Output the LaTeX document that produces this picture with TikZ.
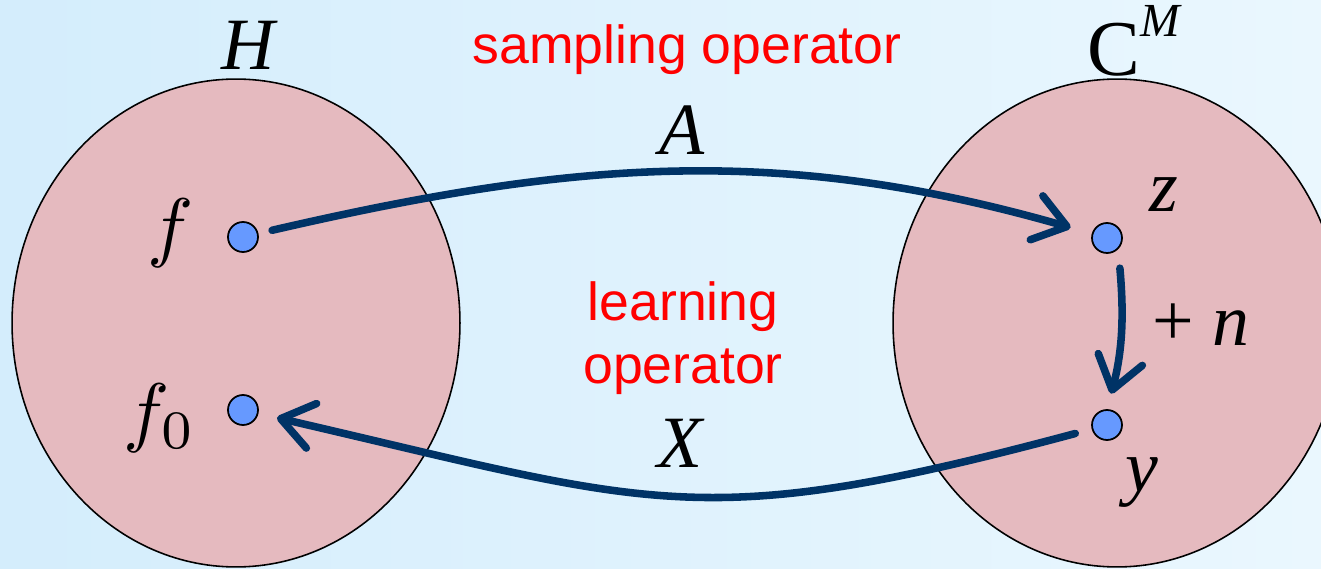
\documentclass[tikz,border=0pt]{standalone}
\usepackage{fontspec}
\newfontfamily\labelfont{Liberation Sans}
\newfontfamily\timesfont{Liberation Serif}
\usepackage{xcolor}
\definecolor{bgleft}{RGB}{212,237,252}
\definecolor{bgright}{RGB}{234,247,254}
\definecolor{spacepink}{RGB}{229,186,191}
\definecolor{pointblue}{RGB}{102,153,255}
\definecolor{flownavy}{RGB}{0,51,102}
\definecolor{opred}{RGB}{255,0,0}
\usetikzlibrary{arrows.meta, positioning, shapes.geometric}

\begin{document}
\begin{tikzpicture}[x=0.02cm, y=0.02cm,
    space/.style={ellipse, draw=black, line width=0.9pt, fill=spacepink,
                  minimum width=8.96cm, minimum height=9.76cm, inner sep=0pt},
    point/.style={circle, draw=black, line width=1pt, fill=pointblue,
                  minimum size=0.6cm, inner sep=0pt},
    sym/.style={font=\fontsize{42}{46}\selectfont\timesfont\itshape, inner sep=0pt},
    mathsym/.style={scale=4.4, inner sep=0pt},
    optext/.style={font=\fontsize{30.5}{36}\selectfont\labelfont, text=opred,
                   align=center, inner sep=0pt},
    flow/.style={line width=4.3pt, draw=flownavy, line cap=round,
                 -{Straight Barb[length=18pt, width=26pt, round]}}]
      % Background
      \fill[left color=bgleft, right color=bgright] (0,0) rectangle (1321,568);
      \useasboundingbox (0,0) rectangle (1321,568);
      % The two spaces
      \node[space] (hspace) at (236,245) {};
      \node[space] (cspace) at (1117,245) {};
      \node[sym] (hlabel) at (248,523) {H};
      \node[inner sep=0pt] (clabel) at (1134,527)
            {\fontsize{45}{48}\selectfont\timesfont C\raisebox{0.5em}{\fontsize{27}{30}\selectfont\itshape M}};
      % Points
      \node[point] (fdot)  at (243,331) {};
      \node[point] (f0dot) at (243,158) {};
      \node[point] (zdot)  at (1107,330) {};
      \node[point] (ydot)  at (1107,143) {};
      \node[mathsym] (flabel)  at (171,335) {$f$};
      \node[mathsym] (f0label) at (160,150) {$f_0$};
      \node[sym] (zlabel) at (1164,373) {z};
      \node[sym] (ylabel) at (1142,85) {y};
      % Operators
      \node[optext] (samp)  at (687,518) {sampling operator};
      \node[optext] (learn) at (683,230) {learning\\operator};
      \node[sym] (alabel) at (682,438) {A};
      \node[sym] (xlabel) at (680,125) {X};
      \node[inner sep=0pt, font=\fontsize{42}{46}\selectfont\timesfont] (nlabel) at (1201,243)
            {+ \itshape n};
      % Arrows
      \draw[flow, shorten <=0.28cm, shorten >=0.44cm] (fdot) to[out=13, in=164] (zdot);
      \draw[flow, shorten <=0.34cm, shorten >=0.38cm] (ydot) to[out=195, in=347, looseness=1.25] (f0dot);
      \draw[flow, shorten <=0.38cm, shorten >=0.32cm] (zdot.south east) to[out=-85, in=75] (ydot.north);
\end{tikzpicture}
\end{document}
